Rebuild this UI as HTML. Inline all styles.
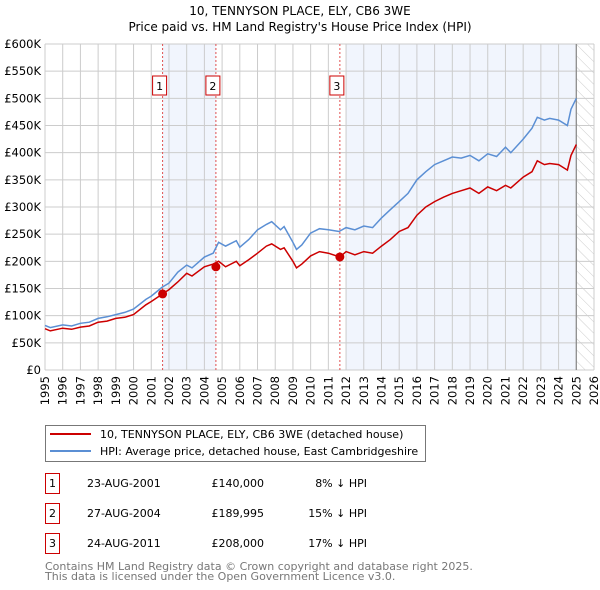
<!DOCTYPE html>
<html><head><meta charset="utf-8">
<style>
body{margin:0;background:#fff;font-family:"DejaVu Sans","Liberation Sans",sans-serif;}
#wrap{position:relative;width:600px;height:590px;overflow:hidden;}
svg text{font-family:"DejaVu Sans","Liberation Sans",sans-serif;}
</style></head>
<body>
<div id="wrap">
<svg id="chart" width="600" height="590"></svg>
</div>
<script>
const yTicks=[0,50,100,150,200,250,300,350,400,450,500,550,600];
const yTickLabels=["£0","£50K","£100K","£150K","£200K","£250K","£300K","£350K","£400K","£450K","£500K","£550K","£600K"];
const xYears=[1995,1996,1997,1998,1999,2000,2001,2002,2003,2004,2005,2006,2007,2008,2009,2010,2011,2012,2013,2014,2015,2016,2017,2018,2019,2020,2021,2022,2023,2024,2025,2026];
const hpiT=[1995,1995.3,1996,1996.5,1997,1997.5,1998,1998.5,1999,1999.5,2000,2000.7,2001,2001.6,2002,2002.5,2003,2003.3,2004,2004.5,2004.8,2005.2,2005.8,2006,2006.5,2007,2007.5,2007.8,2008.3,2008.5,2009,2009.2,2009.5,2010,2010.5,2011,2011.6,2012,2012.5,2013,2013.5,2014,2014.5,2015,2015.5,2016,2016.5,2017,2017.5,2018,2018.5,2019,2019.5,2020,2020.5,2021,2021.3,2022,2022.5,2022.8,2023.2,2023.5,2024,2024.5,2024.7,2025];
const hpiV=[82,78,83,81,86,88,95,98,102,106,112,130,136,152,160,180,193,188,208,215,235,228,238,226,240,258,268,273,258,264,235,222,230,252,260,258,255,262,258,265,262,280,295,310,325,350,365,378,385,392,390,395,385,398,393,410,400,425,445,465,460,463,460,450,480,500];
const ppT=[1995,1995.3,1996,1996.5,1997,1997.5,1998,1998.5,1999,1999.5,2000,2000.7,2001,2001.64,2002,2002.5,2003,2003.3,2004,2004.5,2004.8,2005.2,2005.8,2006,2006.5,2007,2007.5,2007.8,2008.3,2008.5,2009,2009.2,2009.5,2010,2010.5,2011,2011.65,2012,2012.5,2013,2013.5,2014,2014.5,2015,2015.5,2016,2016.5,2017,2017.5,2018,2018.5,2019,2019.5,2020,2020.5,2021,2021.3,2022,2022.5,2022.8,2023.2,2023.5,2024,2024.5,2024.7,2025];
const ppV=[76,72,77,75,79,81,88,90,95,97,102,120,126,140,148,162,178,173,190,195,200,190,200,192,203,215,228,232,222,225,200,188,195,210,218,215,208,218,212,218,215,228,240,255,262,285,300,310,318,325,330,335,325,337,330,340,335,355,365,385,378,380,378,368,395,415];
const saleT=[2001.64,2004.65,2011.65];
const saleV=[140,189.995,208];
const saleLabels=["1","2","3"];

const NS="http://www.w3.org/2000/svg";
const svg=document.getElementById('chart');
const X0=45,X1=594,Y0=370,Y1=44;
const xs=t=>X0+(t-1995)/(2026-1995)*(X1-X0);
const ys=v=>Y0-v/600*(Y0-Y1);
function mk(tag,attrs,parent){const e=document.createElementNS(NS,tag);for(const k in attrs)e.setAttribute(k,attrs[k]);(parent||svg).appendChild(e);return e;}

const defs=mk('defs',{});
const pat=mk('pattern',{id:'hatch',width:8,height:8,patternUnits:'userSpaceOnUse',patternTransform:'rotate(-45)'},defs);
mk('line',{x1:0,y1:0,x2:0,y2:8,stroke:'#ccc','stroke-width':1},pat);

let t=mk('text',{x:300,y:15,'text-anchor':'middle','font-size':12,fill:'#000'});t.textContent="10, TENNYSON PLACE, ELY, CB6 3WE";

t=mk('text',{x:300,y:31,'text-anchor':'middle','font-size':12,fill:'#000'});t.textContent="Price paid vs. HM Land Registry's House Price Index (HPI)";


let r=mk('rect',{x:xs(2001.64),y:Y1,width:xs(2004.65)-xs(2001.64),height:Y0-Y1,fill:'#eef3fc',opacity:0.8});

r=mk('rect',{x:xs(2012.0),y:Y1,width:xs(2025.0)-xs(2012.0),height:Y0-Y1,fill:'#eef3fc',opacity:0.8});

r=mk('rect',{x:xs(2025.0),y:Y1,width:X1-xs(2025.0),height:Y0-Y1,fill:'url(#hatch)'});


const grid=mk('g',{stroke:'#cccccc','stroke-width':1});

yTicks.forEach(v=>mk('line',{x1:X0,x2:X1,y1:ys(v),y2:ys(v)},grid));
xYears.forEach(y=>mk('line',{x1:xs(y),x2:xs(y),y1:Y1,y2:Y0},grid));
mk('line',{x1:xs(2025.0),x2:xs(2025.0),y1:Y1,y2:Y0,stroke:'#888','stroke-width':1.2});

yTicks.forEach((v,i)=>{const e=mk('text',{x:X0-4,y:ys(v)+4,'text-anchor':'end','font-size':11.5,fill:'#000'});e.textContent=yTickLabels[i];
});
xYears.forEach(y=>{const e=mk('text',{x:0,y:0,'text-anchor':'end','font-size':11.5,fill:'#000',transform:`translate(${xs(y)+4},${Y0+6}) rotate(-90)`});e.textContent=y;
});

saleT.forEach((s,i)=>{
 const l=mk('line',{x1:xs(s),x2:xs(s),y1:Y1,y2:Y0,stroke:'#e05050','stroke-width':1,'stroke-dasharray':'2,2'});
 
 const g=mk('g',{});
 mk('rect',{x:xs(s)-10,y:76,width:14,height:19,fill:'#fff',stroke:'#cc0000','stroke-width':1},g);
 const e=mk('text',{x:xs(s)-3,y:90,'text-anchor':'middle','font-size':11,fill:'#000'},g);e.textContent=saleLabels[i];
});

function path(T,V){return T.map((tt,i)=>(i?'L':'M')+xs(tt).toFixed(1)+','+ys(V[i]).toFixed(1)).join('');}
let p=mk('path',{d:path(hpiT,hpiV),fill:'none',stroke:'#5b8fd4','stroke-width':1.5});

p=mk('path',{d:path(ppT,ppV),fill:'none',stroke:'#cc0000','stroke-width':1.5});

saleT.forEach((s,i)=>{const c=mk('circle',{cx:xs(s),cy:ys(saleV[i]),r:4.5,fill:'#cc0000'});
});

const lg=mk('g',{});
mk('rect',{x:45.5,y:425.5,width:380,height:36,fill:'#fff',stroke:'#777','stroke-width':1},lg);
mk('line',{x1:50,x2:91,y1:434,y2:434,stroke:'#cc0000','stroke-width':2},lg);
mk('line',{x1:50,x2:91,y1:451,y2:451,stroke:'#5b8fd4','stroke-width':2},lg);
t=mk('text',{x:100,y:438,'font-size':11,fill:'#000'},lg);t.textContent="10, TENNYSON PLACE, ELY, CB6 3WE (detached house)";
t=mk('text',{x:100,y:455,'font-size':11,fill:'#000'},lg);t.textContent="HPI: Average price, detached house, East Cambridgeshire";

const rows=[["1","23-AUG-2001","£140,000","8% ↓ HPI"],["2","27-AUG-2004","£189,995","15% ↓ HPI"],["3","24-AUG-2011","£208,000","17% ↓ HPI"]];
rows.forEach((rw,i)=>{const y=483+i*30;const g=mk('g',{});
 mk('rect',{x:45.5,y:y-9.5,width:14,height:20,fill:'#fff',stroke:'#cc0000','stroke-width':1},g);
 let e=mk('text',{x:52.5,y:y+4,'text-anchor':'middle','font-size':11,fill:'#000'},g);e.textContent=rw[0];
 e=mk('text',{x:87,y:y+4,'font-size':11,fill:'#000'},g);e.textContent=rw[1];
 e=mk('text',{x:264,y:y+4,'text-anchor':'end','font-size':11,fill:'#000'},g);e.textContent=rw[2];
 e=mk('text',{x:367,y:y+4,'text-anchor':'end','font-size':11,fill:'#000'},g);e.textContent=rw[3];
});
t=mk('text',{x:45,y:570,'font-size':11,fill:'#777'});t.textContent="Contains HM Land Registry data © Crown copyright and database right 2025.";

t=mk('text',{x:45,y:580,'font-size':11,fill:'#777'});t.textContent="This data is licensed under the Open Government Licence v3.0.";

</script>
</body></html>
